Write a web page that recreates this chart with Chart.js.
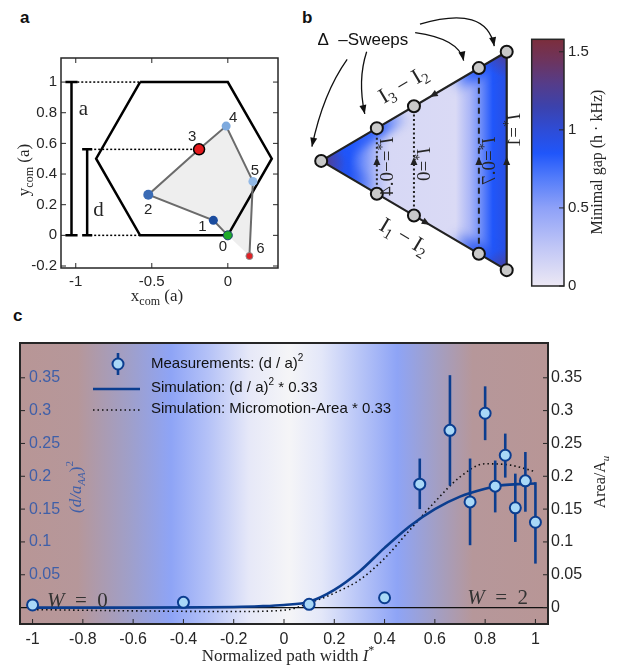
<!DOCTYPE html>
<html>
<head>
<meta charset="utf-8">
<title>Path width and enclosed area</title>
<script src="https://cdn.jsdelivr.net/npm/chart.js@4.4.1/dist/chart.umd.min.js"></script>
<style>
  html, body { margin:0; padding:0; background:#fff; }
  body { position:relative; width:618px; height:667px; overflow:hidden; }
  canvas { position:absolute; }
  .tag { position:absolute; font:bold 17px "Liberation Sans", Arial, sans-serif; line-height:17px; color:#111; }
</style>
</head>
<body>
<div class="tag" style="left:20px;top:9px">a</div>
<div class="tag" style="left:302px;top:9px">b</div>
<div class="tag" style="left:13px;top:307px">c</div>
<canvas id="pa" width="290" height="312" style="left:0;top:0"></canvas>
<canvas id="pb" width="328" height="300" style="left:290px;top:0"></canvas>
<canvas id="cb" width="98" height="300" style="left:520px;top:0"></canvas>
<canvas id="pc" width="618" height="357" style="left:0;top:310px"></canvas>
<script>
// ═══════════════════════════════════════════════════════════════
//  data
// ═══════════════════════════════════════════════════════════════

// ── a: centre-of-mass path inside the unit cell ──
const hexX = [-0.577, 0, 0.289, 0, -0.577, -0.866, -0.577];
const hexY = [1, 1, 0.5, 0, 0, 0.5, 1];
const comX = [0, -0.095, -0.523, -0.189, -0.011, 0.165, 0.142];
const comY = [0, 0.098, 0.265, 0.561, 0.713, 0.352, -0.135];
const comLabels = ["0", "1", "2", "3", "4", "5", "6"];
const comColors = ["#1faa2a", "#1b4c9e", "#3a6bb5", "#e3191c", "#7eaade", "#92b9e6", "#de2126"];
const aTicksX = [-1, -0.5, 0];
const aTicksY = [-0.2, 0, 0.2, 0.4, 0.6, 0.8, 1];

// ── b: Δ-sweeps over the triangle ──
const triX = [-1, 1, 1, -1];
const triY = [0, 1, -1, 0];
const sweepI = [-0.4, 0, 0.7, 1];
const sweepHalf = [0.3, 0.5, 0.85, 1];
const sweepText = ["−0.4", "0", "0.7", "1"];
const heatI   = [-1, -0.85, -0.7, -0.55, -0.4, -0.25, 0.45, 0.6, 0.72, 0.85, 1];
const heatGap = [1.3, 1.0, 0.85, 0.6, 0.3, 0.12, 0.1, 0.35, 0.6, 0.85, 0.95];
const cbVals = [0, 0.25, 0.5, 0.7, 0.85, 1.0, 1.15, 1.3, 1.45, 1.58];
const cbCols = [[236,232,244],[192,198,246],[142,161,248],[80,122,250],[32,86,250],
                [46,76,214],[60,66,172],[86,60,136],[110,52,92],[124,46,60]];
const cbTicks = [0, 0.5, 1, 1.5];

// ── c: measured and simulated area vs normalized path width ──
const measI = [-1, -0.4, 0.1, 0.4, 0.54, 0.66, 0.74, 0.80, 0.84, 0.88, 0.92, 0.96, 1.0];
const measY = [0.004, 0.008, 0.005, 0.015, 0.188, 0.270, 0.161, 0.296, 0.185, 0.232, 0.152, 0.193, 0.130];
const errLo = [null, null, null, null, 0.150, 0.186, 0.095, 0.255, 0.145, 0.198, 0.100, 0.146, 0.067];
const errHi = [null, null, null, null, 0.227, 0.354, 0.227, 0.337, 0.224, 0.265, 0.204, 0.237, 0.191];
const simI = [-1, -0.6, -0.3, -0.2, -0.1, 0, 0.1, 0.2, 0.3, 0.4, 0.5, 0.6, 0.7, 0.8, 0.86, 0.93, 1.0];
const simY = [0, 0, 0.0005, 0.001, 0.002, 0.004, 0.009, 0.027, 0.055, 0.091, 0.124, 0.150, 0.169, 0.181, 0.186, 0.188, 0.189];
const mmI = [-1, -0.6, -0.2, 0, 0.13, 0.2, 0.3, 0.4, 0.5, 0.6, 0.7, 0.8, 0.9, 1.0];
const mmY = [-0.003, -0.005, -0.006, -0.004, 0.011, 0.022, 0.042, 0.075, 0.118, 0.161, 0.199, 0.219, 0.217, 0.207];
const cTicksX = [-1, -0.8, -0.6, -0.4, -0.2, 0, 0.2, 0.4, 0.6, 0.8, 1];
const cTicksL = [0.05, 0.1, 0.15, 0.2, 0.25, 0.3, 0.35];
const cTicksR = [0, 0.05, 0.1, 0.15, 0.2, 0.25, 0.3, 0.35];

// ═══════════════════════════════════════════════════════════════
//  helpers
// ═══════════════════════════════════════════════════════════════
const SANS  = '"Liberation Sans", Arial, sans-serif';
const SERIF = '"Liberation Serif", "Times New Roman", serif';
const INK   = "#262626";
const BLUE  = "#0b3d8f";

Chart.defaults.font.family = SANS;
Chart.defaults.font.size   = 15;
Chart.defaults.color       = INK;
Chart.defaults.animation   = false;
Chart.defaults.plugins.legend.display  = false;
Chart.defaults.plugins.tooltip.enabled = false;

const xy = (xs, ys) => xs.map((x, i) => ({ x, y: ys[i] }));
const fixedTicks = vals => s => { s.ticks = vals.map(v => ({ value: v })); };
const noGrid = { display:false, drawTicks:false };

function cmap(v, a = 1) {
  let k = 0;
  while (k < cbVals.length - 2 && v > cbVals[k + 1]) k++;
  const t = Math.min(1, Math.max(0, (v - cbVals[k]) / (cbVals[k + 1] - cbVals[k])));
  const c = cbCols[k].map((c0, j) => Math.round(c0 + (cbCols[k + 1][j] - c0) * t));
  return `rgba(${c[0]},${c[1]},${c[2]},${a})`;
}

// parts: [text, font, dy, colour]
function rich(ctx, parts, x, y, { rot = 0, align = "center", color = INK, flip = false } = {}) {
  ctx.save();
  ctx.translate(x, y); ctx.rotate(rot);
  if (flip) ctx.scale(1, -1);
  ctx.textBaseline = "middle"; ctx.textAlign = "left";
  let w = 0;
  for (const p of parts) { ctx.font = p[1]; w += ctx.measureText(p[0]).width; }
  let cx = align === "center" ? -w / 2 : align === "right" ? -w : 0;
  for (const p of parts) {
    ctx.font = p[1]; ctx.fillStyle = p[3] || color;
    ctx.fillText(p[0], cx, p[2] || 0);
    cx += ctx.measureText(p[0]).width;
  }
  ctx.restore();
}

function frame(chart, sides, lw = 1.5) {
  const { ctx, chartArea: a } = chart;
  ctx.save();
  ctx.strokeStyle = INK; ctx.lineWidth = 1;
  for (const [id, side] of sides) {
    const s = chart.scales[id];
    for (const t of s.ticks) {
      const p = s.getPixelForValue(t.value);
      ctx.beginPath();
      if (side === "bottom") { ctx.moveTo(p, a.bottom); ctx.lineTo(p, a.bottom - 5); }
      if (side === "top")    { ctx.moveTo(p, a.top);    ctx.lineTo(p, a.top + 5); }
      if (side === "left")   { ctx.moveTo(a.left, p);   ctx.lineTo(a.left + 5, p); }
      if (side === "right")  { ctx.moveTo(a.right, p);  ctx.lineTo(a.right - 5, p); }
      ctx.stroke();
    }
  }
  ctx.lineWidth = lw;
  ctx.strokeRect(a.left, a.top, a.right - a.left, a.bottom - a.top);
  ctx.restore();
}

function arrowHead(ctx, x, y, ang, len = 8, half = 3.5) {
  ctx.save();
  ctx.translate(x, y); ctx.rotate(ang);
  ctx.beginPath();
  ctx.moveTo(0, 0); ctx.lineTo(-len, -half); ctx.lineTo(-len, half); ctx.closePath();
  ctx.fill();
  ctx.restore();
}

// ═══════════════════════════════════════════════════════════════
//  a
// ═══════════════════════════════════════════════════════════════
const labelOff = [[-5, 12], [-11, 7], [0, 15], [-7, -12], [7, -8], [2, -11], [11, -7]];

const paPlug = {
  id: "paPlug",
  afterDraw(chart) {
    const { ctx, scales: { x, y } } = chart;
    frame(chart, [["x", "bottom"], ["x", "top"], ["y", "left"], ["y", "right"]]);
    comLabels.forEach((t, i) => {
      rich(ctx, [[t, `15px ${SANS}`]], x.getPixelForValue(comX[i]) + labelOff[i][0],
           y.getPixelForValue(comY[i]) + labelOff[i][1]);
    });
    rich(ctx, [["a", `21px ${SERIF}`]], x.getPixelForValue(-0.95), y.getPixelForValue(0.82));
    rich(ctx, [["d", `21px ${SERIF}`]], x.getPixelForValue(-0.85), y.getPixelForValue(0.16));
    rich(ctx, [["y", `17px ${SERIF}`], ["com", `12px ${SERIF}`, 5], [" (a)", `17px ${SERIF}`]],
         25, 170, { rot: -Math.PI / 2 });
    rich(ctx, [["x", `17px ${SERIF}`], ["com", `12px ${SERIF}`, 5], [" (a)", `17px ${SERIF}`]], 157, 297);
  },
};

const capA = 0.04, capD = 0.033, xa = -1.028, xd = -0.925;
new Chart(document.getElementById("pa"), {
  type: "line",
  data: { datasets: [
    { data: xy(comX, comY), borderColor: "#6b6b6b", borderWidth: 2,
      pointRadius: [4.5, 4.5, 5, 5.5, 4.5, 4.5, 3.5], pointBackgroundColor: comColors,
      pointBorderColor: ["#1b3b6f", "#1b4c9e", "#3a6bb5", "#000", "#7eaade", "#92b9e6", "#8a8a8a"],
      pointBorderWidth: [1, 0, 0, 1.5, 0, 0, 1], order: 0 },
    { data: xy([...comX, comX[0]], [...comY, comY[0]]), fill: "shape", backgroundColor: "#eeeeee",
      borderWidth: 0, pointRadius: 0, order: 9 },
    { data: xy(hexX, hexY), borderColor: "#000", borderWidth: 2.5, pointRadius: 0, order: 4 },
    { data: [{ x: -0.99, y: 1 }, { x: hexX[0], y: 1 }], borderColor: "#000", borderWidth: 1.5,
      borderDash: [2, 2], pointRadius: 0, order: 5 },
    { data: [{ x: -0.905, y: comY[3] }, { x: comX[3], y: comY[3] }], borderColor: "#000", borderWidth: 1.5,
      borderDash: [2, 2], pointRadius: 0, order: 5 },
    { data: [{ x: -0.905, y: 0 }, { x: hexX[0], y: 0 }], borderColor: "#000", borderWidth: 1.5,
      borderDash: [2, 2], pointRadius: 0, order: 5 },
    { data: [{ x: xa - capA, y: 1 }, { x: xa + capA, y: 1 }, { x: xa, y: 1 }, { x: xa, y: 0 },
             { x: xa - capA, y: 0 }, { x: xa + capA, y: 0 }],
      borderColor: "#000", borderWidth: 2.5, pointRadius: 0, order: 3 },
    { data: [{ x: xd - capD, y: comY[3] }, { x: xd + capD, y: comY[3] }, { x: xd, y: comY[3] }, { x: xd, y: 0 },
             { x: xd - capD, y: 0 }, { x: xd + capD, y: 0 }],
      borderColor: "#000", borderWidth: 2.5, pointRadius: 0, order: 3 },
  ] },
  options: {
    responsive: false,
    layout: { padding: { top: 58, right: 12 } },
    scales: {
      x: { type: "linear", min: -1.097, max: 0.33, grid: noGrid, border: { display: false },
           afterFit: s => { s.height = 44; }, afterBuildTicks: fixedTicks(aTicksX),
           ticks: { padding: 5, callback: v => String(v) } },
      y: { type: "linear", min: -0.213, max: 1.157, grid: noGrid, border: { display: false },
           afterFit: s => { s.width = 61; }, afterBuildTicks: fixedTicks(aTicksY),
           ticks: { padding: 4, callback: v => String(v) } },
    },
  },
  plugins: [paPlug],
});

// ═══════════════════════════════════════════════════════════════
//  b
// ═══════════════════════════════════════════════════════════════
const heatPlug = {
  id: "heat",
  beforeDatasetsDraw(chart) {
    const { ctx, scales: { x, y } } = chart;
    const P = (a, b) => [x.getPixelForValue(a), y.getPixelForValue(b)];
    ctx.save();
    ctx.beginPath();
    triX.forEach((v, i) => { const [px, py] = P(v, triY[i]); i ? ctx.lineTo(px, py) : ctx.moveTo(px, py); });
    ctx.closePath(); ctx.clip();

    const [l] = P(-1, 0), [r] = P(1, 0);
    const g = ctx.createLinearGradient(l, 0, r, 0);
    heatI.forEach((v, i) => g.addColorStop((v + 1) / 2, cmap(heatGap[i])));
    ctx.fillStyle = g; ctx.fillRect(0, 0, chart.width, chart.height);

    // soft blue bands along the two sloped edges
    ctx.filter = "blur(5px)";
    const band = (y1, stops, gap) => {
      const [ax, ay] = P(-1, 0), [bx, by] = P(1, y1);
      const gg = ctx.createLinearGradient(ax, ay, bx, by);
      stops.forEach(([I, al]) => gg.addColorStop((I + 1) / 2, cmap(gap, al)));
      ctx.strokeStyle = gg; ctx.lineWidth = 20;
      ctx.beginPath(); ctx.moveTo(ax, ay); ctx.lineTo(bx, by); ctx.stroke();
    };
    band(1,  [[-1, 0.9], [-0.35, 0.8], [-0.1, 0], [0.4, 0], [0.62, 0.85], [1, 0.9]], 0.85);
    band(-1, [[-1, 0.7], [-0.65, 0.5], [-0.45, 0], [0.4, 0], [0.62, 0.8], [1, 0.9]], 0.9);
    const blob = (a, b, gap, rad) => {
      const [cx, cy] = P(a, b);
      const rg = ctx.createRadialGradient(cx, cy, 0, cx, cy, rad);
      rg.addColorStop(0, cmap(gap, 0.95)); rg.addColorStop(1, cmap(gap, 0));
      ctx.fillStyle = rg; ctx.fillRect(cx - rad, cy - rad, 2 * rad, 2 * rad);
    };
    ctx.filter = "none";
    blob(1, 1, 1.3, 26); blob(1, -1, 1.25, 22); blob(-1, 0, 1.35, 24);
    ctx.restore();
  },
};

const pbPlug = {
  id: "pbPlug",
  afterDatasetsDraw(chart) {
    const { ctx, scales: { x, y } } = chart;
    const P = (a, b) => [x.getPixelForValue(a), y.getPixelForValue(b)];
    ctx.save();
    ctx.fillStyle = "#222";
    // upward arrows on each sweep
    sweepI.forEach(I => { const [px, py] = P(I, 0); arrowHead(ctx, px, py - 4, -Math.PI / 2); });
    // arrows on the sloped edges
    const [lx, ly] = P(-1, 0), [tx, ty] = P(1, 1), [bx, by] = P(1, -1);
    const [ux, uy] = P(0.17, 0.585), [dx, dy] = P(0.17, -0.585);
    arrowHead(ctx, ux, uy, Math.atan2(ly - ty, lx - tx));
    arrowHead(ctx, dx, dy, Math.atan2(by - ly, bx - lx));

    // sweep labels (mirrored, as in the original figure)
    const labY = [-0.05, -0.03, 0, 0.28];
    sweepI.forEach((I, k) => {
      const [px, py] = P(I, labY[k]);
      rich(ctx, [["I", `italic 19px ${SERIF}`], ["*", `14px ${SERIF}`, -5], ["=" + sweepText[k], `19px ${SERIF}`]],
           px + (k === 3 ? 8 : 11), py, { rot: Math.PI / 2, flip: true });
    });
    const ang = Math.atan2(ty - ly, tx - lx);
    let [ex, ey] = P(-0.11, 0.69);
    rich(ctx, [["I", `22px ${SERIF}`], ["3", `15px ${SERIF}`, 6], [" − ", `22px ${SERIF}`],
               ["I", `22px ${SERIF}`], ["2", `15px ${SERIF}`, 6]], ex, ey, { rot: ang });
    [ex, ey] = P(-0.11, -0.70);
    rich(ctx, [["I", `22px ${SERIF}`], ["1", `15px ${SERIF}`, 6], [" − ", `22px ${SERIF}`],
               ["I", `22px ${SERIF}`], ["2", `15px ${SERIF}`, 6]], ex, ey, { rot: -ang });

    // Δ-sweeps callout
    const [sx, sy] = P(-0.55, 1.10);
    rich(ctx, [["Δ  –Sweeps", `17px ${SANS}`]], sx, sy, { color: "#111" });
    const curves = [
      [[-0.72, 0.93], [-0.98, 0.62], [-1.1, 0.13]],
      [[-0.51, 1.0], [-0.61, 0.74], [-0.53, 0.43]],
      [[0.013, 1.174], [0.487, 1.118], [0.536, 0.918]],
      [[0.065, 1.253], [0.78, 1.432], [0.866, 1.05]],
    ];
    ctx.strokeStyle = "#111"; ctx.fillStyle = "#111"; ctx.lineWidth = 1.3;
    curves.forEach(([a, c, b]) => {
      const [ax, ay] = P(...a), [cx, cy] = P(...c), [bx2, by2] = P(...b);
      ctx.beginPath(); ctx.moveTo(ax, ay); ctx.quadraticCurveTo(cx, cy, bx2, by2); ctx.stroke();
      arrowHead(ctx, bx2, by2, Math.atan2(by2 - cy, bx2 - cx), 9, 3.5);
    });
    ctx.restore();
  },
};

const sweepPts = [{ x: -1, y: 0 }];
sweepI.forEach((I, k) => { sweepPts.push({ x: I, y: sweepHalf[k] }, { x: I, y: -sweepHalf[k] }); });

new Chart(document.getElementById("pb"), {
  type: "line",
  data: { datasets: [
    { data: sweepPts, showLine: false, pointRadius: 6, pointBackgroundColor: "#c9c9c9",
      pointBorderColor: "#111", pointBorderWidth: 2, order: 0 },
    { data: xy(triX, triY), borderColor: "#222", borderWidth: 2.2, pointRadius: 0, order: 2 },
    ...sweepI.slice(0, 3).map((I, k) => ({
      data: [{ x: I, y: -sweepHalf[k] }, { x: I, y: sweepHalf[k] }],
      borderColor: "#222", borderWidth: 2, borderDash: k < 2 ? [2, 2.5] : [6, 4],
      pointRadius: 0, order: 1 })),
  ] },
  options: {
    responsive: false,
    layout: { padding: { left: 1.1, right: 88.1, top: 7.7, bottom: 1.1 } },
    scales: {
      x: { type: "linear", display: false, min: -1.25, max: 1.25 },
      y: { type: "linear", display: false, min: -1.2, max: 1.4 },
    },
  },
  plugins: [heatPlug, pbPlug],
});

// ── colour bar ──
const cbPlug = {
  id: "cbPlug",
  afterDraw(chart) {
    frame(chart, [["y", "right"]], 1.5);
    rich(chart.ctx, [["Minimal gap (h · kHz)", `16px ${SERIF}`]], 78, 162, { rot: -Math.PI / 2 });
  },
};
new Chart(document.getElementById("cb"), {
  type: "bar",
  data: { labels: [""], datasets: [{
    data: [cbVals[cbVals.length - 1]], borderWidth: 0, barPercentage: 1, categoryPercentage: 1,
    backgroundColor: c => {
      const s = c.chart.scales.y;
      const y0 = s ? s.getPixelForValue(0) : NaN, y1 = s ? s.getPixelForValue(cbVals[cbVals.length - 1]) : NaN;
      if (!isFinite(y0) || !isFinite(y1) || y0 === y1) return "#8aa0f0";
      const g = c.chart.ctx.createLinearGradient(0, y0, 0, y1);
      cbVals.forEach(v => g.addColorStop(v / cbVals[cbVals.length - 1], cmap(v)));
      return g;
    },
  }] },
  options: {
    responsive: false,
    layout: { padding: { left: 11.7, top: 39.3, bottom: 14 } },
    scales: {
      x: { display: false },
      y: { position: "right", min: 0, max: 1.58, grid: noGrid, border: { display: false },
           afterFit: s => { s.width = 54; }, afterBuildTicks: fixedTicks(cbTicks),
           ticks: { padding: 4, callback: v => String(v) } },
    },
  },
  plugins: [cbPlug],
});

// ═══════════════════════════════════════════════════════════════
//  c
// ═══════════════════════════════════════════════════════════════
const bgStops = [[-1.05, "#b89696"], [-0.82, "#b6979a"], [-0.62, "#a09fc8"], [-0.45, "#8ea4f6"],
                 [-0.3, "#b5c2f7"], [-0.14, "#e6e8f8"], [0.02, "#f5f5f7"], [0.15, "#e3e7f9"],
                 [0.3, "#b8c5f7"], [0.45, "#8ea4f6"], [0.6, "#a29fc6"], [0.75, "#b6979a"], [1.05, "#b89696"]];

const pcPlug = {
  id: "pcPlug",
  beforeDraw(chart) {
    const { ctx, chartArea: a, scales: { x } } = chart;
    const g = ctx.createLinearGradient(a.left, 0, a.right, 0);
    bgStops.forEach(([v, c]) => {
      const t = (x.getPixelForValue(v) - a.left) / (a.right - a.left);
      g.addColorStop(Math.min(1, Math.max(0, t)), c);
    });
    ctx.save(); ctx.fillStyle = g;
    ctx.fillRect(a.left, a.top, a.right - a.left, a.bottom - a.top);
    ctx.restore();
  },
  beforeDatasetDraw(chart, args) {
    if (args.index !== 0) return;
    const { ctx, scales: { x, y } } = chart;
    ctx.save(); ctx.strokeStyle = BLUE; ctx.lineWidth = 2.6;
    measI.forEach((I, i) => {
      if (errLo[i] == null) return;
      const px = x.getPixelForValue(I);
      ctx.beginPath(); ctx.moveTo(px, y.getPixelForValue(errLo[i])); ctx.lineTo(px, y.getPixelForValue(errHi[i])); ctx.stroke();
    });
    ctx.restore();
  },
  afterDraw(chart) {
    const { ctx } = chart;
    frame(chart, [["x", "bottom"], ["y", "left"], ["y2", "right"]], 2);

    // legend
    const L = `15px ${SANS}`, S = `10px ${SANS}`;
    ctx.save();
    ctx.strokeStyle = BLUE; ctx.lineWidth = 2.6;
    ctx.beginPath(); ctx.moveTo(118, 43); ctx.lineTo(118, 65); ctx.stroke();
    ctx.beginPath(); ctx.arc(118, 54, 5.5, 0, 2 * Math.PI);
    ctx.fillStyle = "#a9d8f7"; ctx.fill(); ctx.lineWidth = 2; ctx.stroke();
    ctx.lineWidth = 2.5; ctx.beginPath(); ctx.moveTo(93, 79); ctx.lineTo(140, 79); ctx.stroke();
    ctx.strokeStyle = "#111"; ctx.lineWidth = 1.6; ctx.setLineDash([1.5, 3]);
    ctx.beginPath(); ctx.moveTo(93, 100); ctx.lineTo(140, 100); ctx.stroke();
    ctx.restore();
    rich(ctx, [["Measurements: (d / a)", L], ["2", S, -6]], 151, 54, { align: "left", color: "#111" });
    rich(ctx, [["Simulation: (d / a)", L], ["2", S, -6], [" * 0.33", L]], 151, 78, { align: "left", color: "#111" });
    rich(ctx, [["Simulation: Micromotion-Area * 0.33", L]], 151, 99, { align: "left", color: "#111" });

    // titles and winding labels
    const lb = "#3f5fa8";
    rich(ctx, [["(d/a", `italic 17px ${SERIF}`], ["AA", `italic 11px ${SERIF}`, 5], [")", `17px ${SERIF}`],
               ["2", `11px ${SERIF}`, -7]], 77, 177, { rot: -Math.PI / 2, color: lb });
    rich(ctx, [["Area/A", `16px ${SERIF}`], ["u", `italic 11px ${SERIF}`, 5]], 601, 172, { rot: -Math.PI / 2 });
    rich(ctx, [["Normalized path width ", `17px ${SERIF}`], ["I", `italic 17px ${SERIF}`], ["*", `12px ${SERIF}`, -6]],
         288, 347);
    rich(ctx, [["W", `italic 21px ${SERIF}`], ["\u2002=\u20020", `21px ${SERIF}`]], 47, 291, { align: "left", color: "#333" });
    rich(ctx, [["W", `italic 21px ${SERIF}`], ["\u2002=\u20022", `21px ${SERIF}`]], 528, 288, { align: "right", color: "#333" });
  },
};

new Chart(document.getElementById("pc"), {
  type: "line",
  data: { datasets: [
    { label: "Measurements", data: xy(measI, measY), showLine: false, pointRadius: 5.5, pointBorderWidth: 2,
      pointBackgroundColor: "#a9d8f7", pointBorderColor: BLUE, order: 0 },
    { label: "Simulation (d/a)^2", data: xy(simI, simY), borderColor: BLUE, borderWidth: 2.6, pointRadius: 0,
      cubicInterpolationMode: "monotone", order: 1 },
    { label: "Simulation micromotion area", data: xy(mmI, mmY), borderColor: "#111", borderWidth: 1.6,
      borderDash: [1.5, 3], pointRadius: 0, cubicInterpolationMode: "monotone", order: 2 },
    { data: [{ x: -1.05, y: 0 }, { x: 1.05, y: 0 }], borderColor: "#111", borderWidth: 1.2, pointRadius: 0, order: 3 },
  ] },
  options: {
    responsive: false,
    layout: { padding: { top: 33 } },
    scales: {
      x: { type: "linear", min: -1.05, max: 1.05, grid: noGrid, border: { display: false },
           afterFit: s => { s.height = 43; }, afterBuildTicks: fixedTicks(cTicksX),
           ticks: { padding: 6, font: { size: 16 }, callback: v => String(v) } },
      y: { type: "linear", position: "left", min: -0.025, max: 0.403, grid: noGrid, border: { display: false },
           afterFit: s => { s.width = 20; }, afterBuildTicks: fixedTicks(cTicksL),
           ticks: { mirror: true, padding: 9, color: "#3f5fa8", font: { size: 16 }, callback: v => String(v) } },
      y2: { type: "linear", position: "right", min: -0.025, max: 0.403, grid: noGrid, border: { display: false },
            afterFit: s => { s.width = 70; }, afterBuildTicks: fixedTicks(cTicksR),
            ticks: { padding: 3, font: { size: 16 }, callback: v => String(v) } },
    },
  },
  plugins: [pcPlug],
});
</script>
</body>
</html>
